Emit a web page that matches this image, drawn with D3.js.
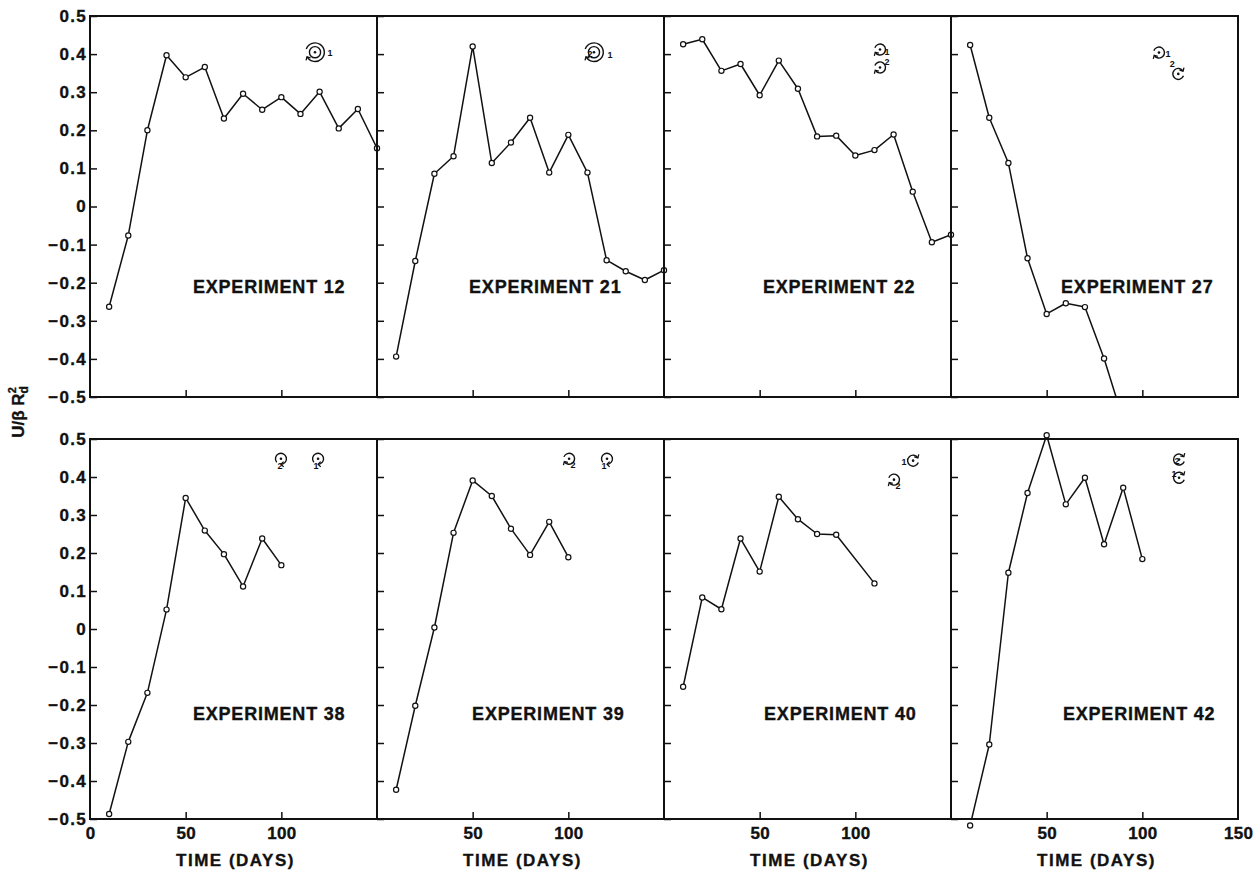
<!DOCTYPE html>
<html><head><meta charset="utf-8">
<script src="https://cdn.jsdelivr.net/npm/d3@7"></script>
<style>
body{margin:0;background:#fff}
svg{display:block}
text{font-family:"Liberation Sans",Arial,Helvetica,sans-serif;font-weight:bold;fill:#111}
.heavy{stroke:#111;stroke-width:0.35px}
</style>
</head><body><svg id="c" width="1258" height="871"></svg>
<script>
// ---------------- DATA ----------------
const experiments = ["EXPERIMENT 12","EXPERIMENT 21","EXPERIMENT 22","EXPERIMENT 27",
                     "EXPERIMENT 38","EXPERIMENT 39","EXPERIMENT 40","EXPERIMENT 42"];
const days15 = [10,20,30,40,50,60,70,80,90,100,110,120,130,140,150];
const days27 = [10,20,30,40,50,60,70,80,90];
const days10 = [10,20,30,40,50,60,70,80,90,100];
const days40 = [10,20,30,40,50,60,70,80,90,110];
const exp12 = [-0.263,-0.076,0.200,0.397,0.339,0.366,0.231,0.296,0.254,0.287,0.243,0.301,0.205,0.256,0.153];
const exp21 = [-0.394,-0.143,0.086,0.132,0.420,0.114,0.168,0.233,0.089,0.188,0.089,-0.141,-0.170,-0.193,-0.167];
const exp22 = [0.426,0.439,0.356,0.374,0.292,0.383,0.309,0.184,0.186,0.134,0.148,0.189,0.039,-0.094,-0.074];
const exp27 = [0.424,0.233,0.114,-0.136,-0.282,-0.254,-0.264,-0.399,-0.560];
const exp38 = [-0.487,-0.297,-0.168,0.051,0.345,0.259,0.197,0.112,0.238,0.168];
const exp39 = [-0.423,-0.202,0.004,0.253,0.391,0.350,0.264,0.195,0.282,0.189];
const exp40 = [-0.152,0.083,0.052,0.238,0.151,0.348,0.289,0.250,0.248,0.120];
const exp42 = [-0.517,-0.304,0.148,0.358,0.510,0.328,0.398,0.223,0.372,0.184];
const seriesDays = [days15,days15,days15,days27,days10,days10,days40,days10];
const seriesVals = [exp12,exp21,exp22,exp27,exp38,exp39,exp40,exp42];

const yTicks = [-0.5,-0.4,-0.3,-0.2,-0.1,0,0.1,0.2,0.3,0.4,0.5];
const xTickMarks = [50,100];
const xTickLabelsByCol = [[0,50,100],[50,100],[50,100],[50,100,150]];
const xTitle = "TIME (DAYS)";

// ---------------- LAYOUT ----------------
const colLeft = [90,377,664,951], colW = 287;
const rowTop = [16,439], rowH = [381,380];
// experiment label anchor (in data units: day, value)
const labelAt = [[53.8,-0.227],[48.1,-0.227],[51.7,-0.227],[57.5,-0.227],
                 [53.8,-0.239],[49.7,-0.239],[52.3,-0.239],[58.5,-0.239]];
// rotation symbols: panel, day, value, radius, double ring, start angle (deg), labels [text, dx, dy]
const symbols = [
  {p:0,d:117.6,v:0.405,r:9.3,dbl:true,a:200,labels:[["1",15,4]]},
  {p:1,d:113.4,v:0.405,r:9.3,dbl:true,a:200,labels:[["2",-4,5],["1",16,6]]},
  {p:2,d:112.9,v:0.412,r:5.5,a:200,labels:[["1",7,5]]},
  {p:2,d:112.9,v:0.365,r:5.5,a:200,labels:[["2",7,-2]]},
  {p:3,d:108.7,v:0.404,r:5.5,a:200,labels:[["1",9,4]]},
  {p:3,d:118.8,v:0.348,r:5.5,a:20,labels:[["2",-6,-7]]},
  {p:4,d:99.8,v:0.448,r:5.5,a:140,labels:[["2",-1,10]]},
  {p:4,d:119.2,v:0.448,r:5.5,a:140,labels:[["1",-2,10]]},
  {p:5,d:100.4,v:0.448,r:5.5,a:200,labels:[["2",4,9]]},
  {p:5,d:120.2,v:0.448,r:5.5,a:140,labels:[["1",-3,10]]},
  {p:6,d:130.2,v:0.443,r:5.5,a:20,labels:[["1",-9,4]]},
  {p:6,d:120.2,v:0.393,r:5.5,a:200,labels:[["2",4,9]]},
  {p:7,d:119.2,v:0.446,r:5.5,a:20,labels:[["2",-2,4]]},
  {p:7,d:119.2,v:0.398,r:5.5,a:20,labels:[["1",-5,-1]]}
];

const svg = d3.select("#c");
const fmt = d => d === 0 ? "0" : d3.format(".1f")(d);
const defs = svg.append("defs");

const panels = experiments.map((name,i) => {
  const col = i % 4, row = Math.floor(i / 4);
  const x = d3.scaleLinear().domain([0,150]).range([colLeft[col], colLeft[col] + colW]);
  const y = d3.scaleLinear().domain([-0.5,0.5]).range([rowTop[row] + rowH[row], rowTop[row]]);
  return {name, col, row, x, y, days: seriesDays[i], vals: seriesVals[i]};
});

function styleLabels(sel, size, ls) {
  sel.selectAll("text").style("font-family",'"Liberation Sans",Arial,sans-serif')
    .style("font-weight","bold").style("font-size",size).style("letter-spacing",ls)
    .attr("fill","#111").attr("class","heavy");
}

panels.forEach((P,i) => {
  const g = svg.append("g");
  const [x0,x1] = P.x.range(), [yb,yt] = P.y.range();

  defs.append("clipPath").attr("id","clip"+i)
    .append("rect").attr("x",x0).attr("y",yt).attr("width",x1-x0).attr("height",yb-yt);

  // y inward ticks
  const ya = g.append("g").attr("transform",`translate(${x0},0)`)
    .call(d3.axisRight(P.y).tickValues(yTicks).tickSize(7).tickFormat(""));
  ya.select(".domain").remove();
  ya.selectAll("line").attr("stroke","#111").attr("stroke-width",1.5);

  // x inward ticks
  const xa = g.append("g").attr("transform",`translate(0,${yb})`)
    .call(d3.axisTop(P.x).tickValues(xTickMarks).tickSize(7).tickFormat(""));
  xa.select(".domain").remove();
  xa.selectAll("line").attr("stroke","#111").attr("stroke-width",1.5);

  // frame
  g.append("rect").attr("x",x0).attr("y",yt).attr("width",x1-x0).attr("height",yb-yt)
    .attr("fill","none").attr("stroke","#111").attr("stroke-width",2);

  // y labels on the first column
  if (P.col === 0) {
    const yl = g.append("g").attr("transform",`translate(${x0},0)`)
      .call(d3.axisLeft(P.y).tickValues(yTicks).tickSize(0).tickPadding(3).tickFormat(fmt));
    yl.select(".domain").remove();
    styleLabels(yl, "17px", "1.3px");
  }
  // x labels on bottom row
  if (P.row === 1) {
    const xl = g.append("g").attr("transform",`translate(0,${yb})`)
      .call(d3.axisBottom(P.x).tickValues(xTickLabelsByCol[P.col]).tickSize(0).tickPadding(8).tickFormat(d3.format("d")));
    xl.select(".domain").remove();
    styleLabels(xl, "17px", "0.3px");
    g.append("text").attr("class","heavy").attr("x",(x0+x1)/2 + 2).attr("y",yb + 47).attr("text-anchor","middle")
      .style("font-size","17px").style("letter-spacing","1.5px").text(xTitle);
  }

  // series line
  const pts = P.days.map((d,k) => [d, P.vals[k]]);
  const line = d3.line().x(d => P.x(d[0])).y(d => P.y(d[1]));
  g.append("path").datum(pts).attr("d",line).attr("fill","none")
    .attr("stroke","#111").attr("stroke-width",1.5).attr("stroke-linejoin","round")
    .attr("clip-path",`url(#clip${i})`);
  g.selectAll("circle.pt").data(pts.filter(d => d[1] >= -0.53 && d[1] <= 0.53)).join("circle")
    .attr("class","pt").attr("cx",d => P.x(d[0])).attr("cy",d => P.y(d[1])).attr("r",2.6)
    .attr("fill","#fff").attr("stroke","#111").attr("stroke-width",1.2);

  // experiment label
  g.append("text").attr("class","heavy").attr("x",P.x(labelAt[i][0])).attr("y",P.y(labelAt[i][1]))
    .style("font-size","18px").style("letter-spacing","0.8px").text(P.name);
});

// rotation symbols
function ring(g, cx, cy, r, startDeg) {
  const a0 = startDeg * Math.PI / 180, a1 = a0 + 1.72 * Math.PI;
  const p = d3.path();
  p.arc(cx, cy, r, a0, a1);
  g.append("path").attr("d", p.toString()).attr("fill","none").attr("stroke","#111").attr("stroke-width",1.4);
  const ex = cx + r*Math.cos(a1), ey = cy + r*Math.sin(a1);
  const tx = -Math.sin(a1), ty = Math.cos(a1);
  const nx = Math.cos(a1), ny = Math.sin(a1);
  const s = 2.6;
  const ah = d3.path();
  ah.moveTo(ex - tx*s + nx*s, ey - ty*s + ny*s);
  ah.lineTo(ex, ey);
  ah.lineTo(ex - tx*s - nx*s, ey - ty*s - ny*s);
  g.append("path").attr("d", ah.toString()).attr("fill","none").attr("stroke","#111").attr("stroke-width",1.3);
}
symbols.forEach(S => {
  const P = panels[S.p];
  const g = svg.append("g");
  const cx = P.x(S.d), cy = P.y(S.v);
  ring(g, cx, cy, S.r, S.a);
  if (S.dbl) {
    g.append("circle").attr("cx",cx).attr("cy",cy).attr("r",S.r*0.6)
      .attr("fill","none").attr("stroke","#111").attr("stroke-width",1.4);
  }
  g.append("circle").attr("cx",cx).attr("cy",cy).attr("r",1.3).attr("fill","#111");
  S.labels.forEach(L => {
    g.append("text").attr("x",cx + L[1]).attr("y",cy + L[2]).attr("text-anchor","middle")
      .style("font-size","9px").text(L[0]);
  });
});

// y axis title
const yt = svg.append("text").attr("class","heavy").attr("transform","translate(24,412) rotate(-90)")
  .attr("text-anchor","middle").style("font-size","17px");
yt.append("tspan").text("U/β R");
yt.append("tspan").attr("dy",4).style("font-size","12px").text("d");
yt.append("tspan").attr("dy",-12).attr("dx",-7).style("font-size","11px").text("2");
</script>
</body></html>
